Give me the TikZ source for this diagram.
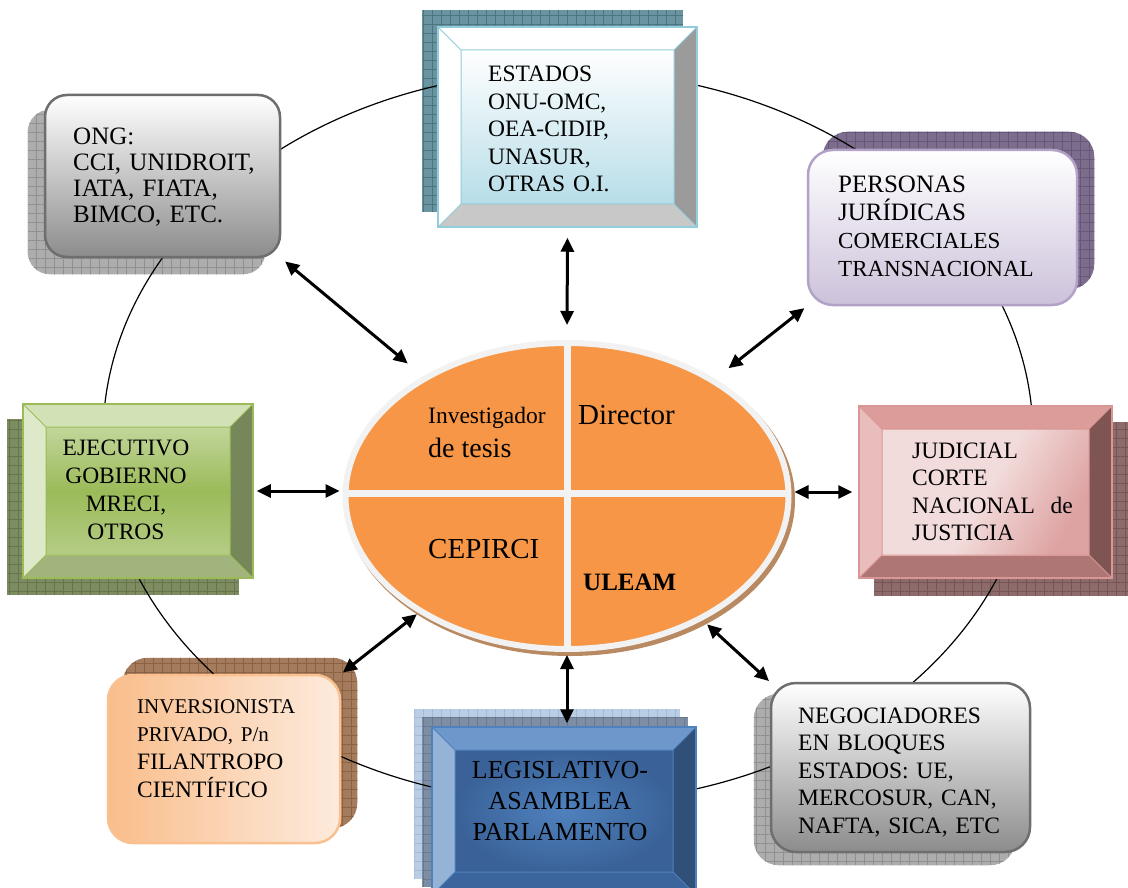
\documentclass[tikz,border=0pt]{standalone}
\usepackage{fontspec}
\setmainfont{Liberation Serif}
\usetikzlibrary{arrows.meta,shapes.geometric,patterns.meta,backgrounds}

% colours of the boxes
\definecolor{estLine}{HTML}{92CDDC}
\definecolor{estFace}{HTML}{B7DDE8}
\definecolor{estRight}{HTML}{9B9B9B}
\definecolor{estBot}{HTML}{C8C8C8}
\definecolor{estSh}{HTML}{6A95A0}
\definecolor{estShL}{HTML}{4B7580}
\definecolor{grayLine}{HTML}{6E6E6E}
\definecolor{grayFill}{HTML}{8C8C8C}
\definecolor{graySh}{HTML}{ADADAD}
\definecolor{grayShL}{HTML}{909090}
\definecolor{perLine}{HTML}{B3A2C7}
\definecolor{perFill}{HTML}{CCC1DA}
\definecolor{perSh}{HTML}{7C6D8C}
\definecolor{perShL}{HTML}{65567A}
\definecolor{ejeLine}{HTML}{9BBB59}
\definecolor{ejeTop}{HTML}{D3E2B6}
\definecolor{ejeLeft}{HTML}{DDE9C8}
\definecolor{ejeRight}{HTML}{76875A}
\definecolor{ejeBot}{HTML}{A2B47E}
\definecolor{ejeFaceA}{HTML}{C2D69A}
\definecolor{ejeFaceB}{HTML}{B5CC86}
\definecolor{ejeSh}{HTML}{7E8C62}
\definecolor{ejeShL}{HTML}{66744C}
\definecolor{judLine}{HTML}{D99694}
\definecolor{judTop}{HTML}{DC9C9A}
\definecolor{judLeft}{HTML}{E9BDBC}
\definecolor{judRight}{HTML}{7F5553}
\definecolor{judBot}{HTML}{AE7775}
\definecolor{judFaceA}{HTML}{F2DCDB}
\definecolor{judFaceB}{HTML}{DDA3A2}
\definecolor{judSh}{HTML}{8E6B6B}
\definecolor{judShL}{HTML}{765454}
\definecolor{invLine}{HTML}{FAC090}
\definecolor{invA}{HTML}{F9BD8B}
\definecolor{invB}{HTML}{FDEBDD}
\definecolor{invSh}{HTML}{A47B5C}
\definecolor{invShL}{HTML}{8A6142}
\definecolor{legLine}{HTML}{4F81BD}
\definecolor{legTop}{HTML}{6E98CC}
\definecolor{legLeft}{HTML}{95B3D7}
\definecolor{legRight}{HTML}{30507A}
\definecolor{legBot}{HTML}{3B659C}
\definecolor{legFaceOut}{HTML}{3A6298}
\definecolor{legShA}{HTML}{B9CDE5}
\definecolor{legShAL}{HTML}{A2BAD8}
\definecolor{legShB}{HTML}{7D8DA3}
\definecolor{legShBL}{HTML}{68788E}
\definecolor{ctrFill}{HTML}{F79646}
\definecolor{ctrLine}{HTML}{F2F2F2}
\definecolor{ctrSh}{HTML}{B98A62}

\begin{document}
\begin{tikzpicture}[x=1pt,y=-1pt,
    bevelbox/.style n args={6}{rectangle,inner sep=0pt,draw=#1,line width=1.5pt,
      path picture={
        \coordinate (pnw) at (path picture bounding box.north west);
        \coordinate (pne) at (path picture bounding box.north east);
        \coordinate (psw) at (path picture bounding box.south west);
        \coordinate (pse) at (path picture bounding box.south east);
        \coordinate (inw) at ([shift={(23pt,-23pt)}]pnw);
        \coordinate (ine) at ([shift={(-23pt,-23pt)}]pne);
        \coordinate (isw) at ([shift={(23pt,23pt)}]psw);
        \coordinate (ise) at ([shift={(-23pt,23pt)}]pse);
        \fill[#2] (pnw) -- (pne) -- (ine) -- (inw) -- cycle;
        \fill[#3] (pnw) -- (inw) -- (isw) -- (psw) -- cycle;
        \fill[#4] (pne) -- (ine) -- (ise) -- (pse) -- cycle;
        \fill[#5] (psw) -- (isw) -- (ise) -- (pse) -- cycle;
        \shade[#6] (inw) rectangle (ise);
        \draw[#1,line width=1pt] (inw) rectangle (ise)
          (pnw) -- (inw) (pne) -- (ine) (psw) -- (isw) (pse) -- (ise);
      }},
    roundbox/.style={rectangle,inner sep=0pt,line width=2.5pt,rounded corners=22pt},
    shadowgrid/.style 2 args={fill=#1,
      postaction={pattern={Hatch[distance=9pt,line width=0.5pt]},pattern color=#2}},
    estface/.style={top color=white,bottom color=estFace},
    ejeface/.style={top color=ejeFaceA,bottom color=ejeFaceB,middle color=ejeLine},
    judface/.style={left color=judFaceA,right color=judFaceB,middle color=judFaceA,shading angle=60},
    legface/.style={inner color=legLine,outer color=legFaceOut},
    txt/.style={inner sep=0pt,anchor=base west,align=left,text width=#1},
    ctrtxt/.style={inner sep=0pt,anchor=base west},
    dbl/.style={<->,>={Triangle[length=14pt,width=13pt]},line width=3pt},
    ring/.style={line width=1.2pt}]

\useasboundingbox (0,0) rectangle (1128,888);

% boxes round the circle
\node[bevelbox={estLine}{white}{white}{estRight}{estBot}{estface},
  minimum width=259pt,minimum height=200pt] (est) at (567.5,127) {};
\node[roundbox,draw=grayLine,top color=white,bottom color=grayFill,
  minimum width=235pt,minimum height=162pt] (ong) at (162.5,176) {};
\node[roundbox,draw=perLine,top color=white,bottom color=perFill,rounded corners=25pt,
  minimum width=269pt,minimum height=155pt] (per) at (942.5,227.5) {};
\node[bevelbox={ejeLine}{ejeTop}{ejeLeft}{ejeRight}{ejeBot}{ejeface},
  minimum width=230pt,minimum height=174pt] (eje) at (138,491) {};
\node[bevelbox={judLine}{judTop}{judLeft}{judRight}{judBot}{judface},
  minimum width=253pt,minimum height=172pt] (jud) at (985.5,492) {};
\node[roundbox,draw=invLine,left color=invA,right color=invB,rounded corners=25pt,
  minimum width=232pt,minimum height=168pt] (inv) at (224,759) {};
\node[bevelbox={legLine}{legTop}{legLeft}{legRight}{legBot}{legface},
  minimum width=264pt,minimum height=168pt] (leg) at (564,811) {};
\node[roundbox,draw=grayLine,top color=white,bottom color=grayFill,rounded corners=25pt,
  minimum width=259pt,minimum height=169pt] (neg) at (900.5,767.5) {};

% the disc in the middle
\node[ellipse,draw=ctrLine,line width=6pt,fill=ctrFill,inner sep=0pt,
  minimum width=443pt,minimum height=306pt,
  path picture={
    \draw[ctrLine,line width=7pt] (path picture bounding box.north) -- (path picture bounding box.south);
    \draw[ctrLine,line width=7pt] ([yshift=3pt]path picture bounding box.west) -- ([yshift=3pt]path picture bounding box.east);
  }] (ctr) at (567,496) {};

% texts
\node[txt=170pt,font=\fontsize{23.5}{27.5}\selectfont] (est-t) at (488,82)
  {ESTADOS\\ONU-OMC,\\OEA-CIDIP,\\UNASUR,\\OTRAS O.I.};
\node[txt=200pt,font=\fontsize{25}{26}\selectfont] (ong-t) at (73,145)
  {ONG:\\CCI, UNIDROIT,\\IATA, FIATA,\\BIMCO, ETC.};
\node[txt=220pt,font=\fontsize{23}{28}\selectfont] (per-t) at (838,193)
  {{\fontsize{25}{28}\selectfont PERSONAS}\\{\fontsize{25}{28}\selectfont JURÍDICAS}\\COMERCIALES\\TRANSNACIONAL};
\node[inner sep=0pt,anchor=base,align=center,text width=170pt,
  font=\fontsize{23.5}{28}\selectfont] (eje-t) at (126,455)
  {EJECUTIVO\\GOBIERNO\\MRECI,\\OTROS};
\node[txt=170pt,font=\fontsize{23.5}{27.5}\selectfont] (jud-t) at (912,458)
  {JUDICIAL\\CORTE\\NACIONAL\ \ de\\JUSTICIA};
\node[txt=190pt,font=\fontsize{23.5}{28}\selectfont] (inv-t) at (137,713)
  {{\fontsize{21}{28}\selectfont INVERSIONISTA}\\{\fontsize{21}{28}\selectfont PRIVADO, P/n}\\FILANTROPO\\CIENTÍFICO};
\node[inner sep=0pt,anchor=base,align=center,text width=230pt,
  font=\fontsize{26}{31}\selectfont] (leg-t) at (560,778)
  {LEGISLATIVO-\\ASAMBLEA\\PARLAMENTO};
\node[txt=230pt,font=\fontsize{23.5}{27.5}\selectfont] (neg-t) at (798,723)
  {NEGOCIADORES\\EN BLOQUES\\ESTADOS: UE,\\MERCOSUR, CAN,\\NAFTA, SICA, ETC};

\node[ctrtxt,font=\fontsize{23.5}{27}\selectfont] (ctr-inv) at (428,423) {Investigador};
\node[ctrtxt,font=\fontsize{28}{30}\selectfont] (ctr-tes) at (428,457) {de tesis};
\node[ctrtxt,font=\fontsize{29}{32}\selectfont] (ctr-dir) at (578,424) {Director};
\node[ctrtxt,font=\fontsize{29}{32}\selectfont] (ctr-cep) at (428,558) {CEPIRCI};
\node[ctrtxt,font=\fontsize{25}{28}\selectfont\bfseries] (ctr-ule) at (583,590) {ULEAM};

% arrows to the middle
\draw[dbl,shorten <=10pt,shorten >=15pt] (est.south) -- (ctr.north);
\draw[dbl,shorten <=5pt,shorten >=20pt] (ong.south east) -- (ctr);
\draw[dbl,shorten <=3pt,shorten >=17pt] (per.south west) -- (ctr);
\draw[dbl,shorten <=3pt,shorten >=3pt] (eje.east) -- (eje.east -| ctr.west);
\draw[dbl,shorten <=3pt,shorten >=6pt] (ctr.east |- jud.west) -- (jud.west);
\draw[dbl,shorten <=2pt,shorten >=2pt] (inv.north east) -- (ctr);
\draw[dbl,shorten <=3pt,shorten >=3pt] (ctr.south) -- (ctr.south |- leg.north);
\draw[dbl,shorten <=1pt,shorten >=6pt] (neg.north west) -- (ctr);

% shadows and ring behind
\begin{pgfonlayer}{background}
  \path[shadowgrid={estSh}{estShL}] ([shift={(-15pt,16pt)}]est.north west) rectangle ([shift={(-15pt,16pt)}]est.south east);
  \path[shadowgrid={graySh}{grayShL},rounded corners=22pt] ([shift={(-16pt,-16pt)}]ong.north west) rectangle ([shift={(-16pt,-16pt)}]ong.south east);
  \path[shadowgrid={perSh}{perShL},rounded corners=25pt] ([shift={(16pt,17pt)}]per.north west) rectangle ([shift={(16pt,17pt)}]per.south east);
  \path[shadowgrid={ejeSh}{ejeShL}] ([shift={(-15pt,-16pt)}]eje.north west) rectangle ([shift={(-15pt,-16pt)}]eje.south east);
  \path[shadowgrid={judSh}{judShL}] ([shift={(16pt,-17pt)}]jud.north west) rectangle ([shift={(16pt,-17pt)}]jud.south east);
  \path[shadowgrid={invSh}{invShL},rounded corners=25pt] ([shift={(16pt,16pt)}]inv.north west) rectangle ([shift={(16pt,16pt)}]inv.south east);
  \path[shadowgrid={legShA}{legShAL}] ([shift={(-17pt,17pt)}]leg.north west) rectangle ([shift={(-17pt,17pt)}]leg.south east);
  \path[shadowgrid={legShB}{legShBL}] ([shift={(-9pt,9pt)}]leg.north west) rectangle ([shift={(-9pt,9pt)}]leg.south east);
  \path[shadowgrid={graySh}{grayShL},rounded corners=25pt] ([shift={(-16pt,-12pt)}]neg.north west) rectangle ([shift={(-16pt,-12pt)}]neg.south east);
  \draw[ring] (568,437) ellipse [x radius=465pt,y radius=366pt];
  \fill[ctrSh] ([shift={(3pt,-4pt)}]ctr.center) ellipse [x radius=225pt,y radius=156pt];
\end{pgfonlayer}
\end{tikzpicture}
\end{document}
